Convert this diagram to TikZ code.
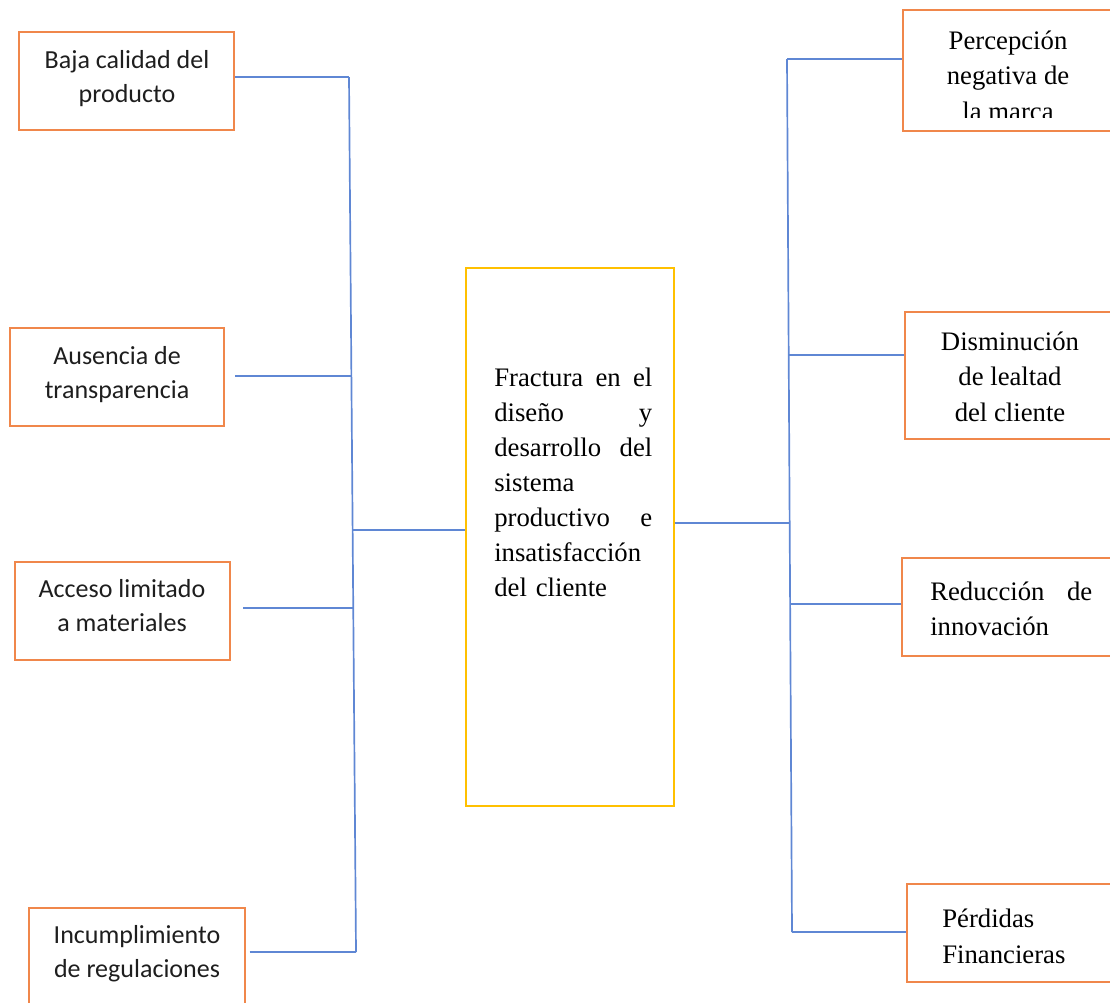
\documentclass[tikz,border=0pt]{standalone}
\usepackage{fontspec}
\setmainfont{Liberation Serif}
\newfontfamily\calibri{Carlito}
\usetikzlibrary{calc}
\definecolor{boxorange}{RGB}{240,135,75}
\definecolor{hubyellow}{RGB}{255,192,0}
\definecolor{linkblue}{RGB}{95,135,212}
\definecolor{inkgray}{RGB}{30,30,30}
\newlength{\hubcol}\setlength{\hubcol}{3.95cm}
\newlength{\redcol}\setlength{\redcol}{4.05cm}
\begin{document}
\begin{tikzpicture}[x=0.025cm,y=-0.025cm,
  box/.style={draw=boxorange, line width=1.4pt, rectangle, inner sep=0pt,
              minimum width=5.375cm, minimum height=2.45cm},
  hub/.style={draw=hubyellow, line width=1.1pt, rectangle, inner sep=0pt,
              minimum width=5.2cm, minimum height=13.45cm},
  link/.style={draw=linkblue, line width=1.2pt},
  causetext/.style={inner sep=0pt, anchor=base, align=center, text=inkgray,
              font=\calibri\fontsize{18.5}{24}\selectfont},
  effecttext/.style={inner sep=0pt, anchor=base, align=center,
              font=\fontsize{19}{25}\selectfont},
]
\useasboundingbox (0,0) rectangle (1110,1002);

% causes (left column); multi-line labels sit on their last baseline
\node[box] (b1) at (126.5,81) {};
\node[box, minimum width=5.35cm] (b2) at (117,377) {};
\node[box] (b3) at (122.5,611) {};
\node[box] (b4) at (137,957) {};
\node[causetext] (t1) at (127,102) {Baja calidad del\\producto};
\node[causetext] (t2) at (117,398) {Ausencia de\\transparencia};
\node[causetext] (t3) at (122,631) {Acceso limitado\\a materiales};
\node[causetext] (t4) at (137,977) {Incumplimiento\\de regulaciones};

% central problem, justified column
\node[hub] (hub) at (570,537) {};
\node[inner sep=0pt, anchor=base west, align=left, text width=\hubcol,
      font=\fontsize{19}{25}\selectfont] (ht) at (494,386)
  {\makebox[\hubcol][l]{Fractura\hfill en\hfill el}\\
   \makebox[\hubcol][l]{diseño\hfill y}\\
   \makebox[\hubcol][l]{desarrollo\hfill del}\\
   sistema\\
   \makebox[\hubcol][l]{productivo\hfill e}\\
   insatisfacción\\
   del cliente};

% effects (right column)
\node[box, minimum height=3.025cm] (e1) at (1010.5,70.5) {};
\node[box, minimum height=3.175cm] (e2) at (1012.5,375.5) {};
\node[box] (e3) at (1009.5,607) {};
\node[box] (e4) at (1014.5,933) {};
\begin{scope}
  \clip (903,10) rectangle (1110,117);
  \node[effecttext] (s1) at (1008,120) {Percepción\\negativa de\\la marca};
\end{scope}
\node[effecttext] (s2) at (1010,421) {Disminución\\de lealtad\\del cliente};
\begin{scope}
  \clip (902,558) rectangle (1110,637);
  \node[inner sep=0pt, anchor=base west, align=left, text width=\redcol,
        font=\fontsize{19}{25}\selectfont] (s3) at (930,600)
    {\makebox[\redcol][l]{Reducción\hfill de}\\innovación};
\end{scope}
\node[inner sep=0pt, anchor=base west, align=left,
      font=\fontsize{19}{25}\selectfont] (s4) at (942,963) {Pérdidas\\Financieras};

% left spine and branches
\coordinate (lt) at (349,77);
\coordinate (lb) at (356,952);
\coordinate (j2) at (351,376);
\coordinate (j3) at (353,608);
\coordinate (jc) at (352.5,530);
\draw[link] (lt) -- (lb);
\draw[link] (b1.east |- lt) -- (lt);
\draw[link] ([xshift=0.25cm]b2.east |- j2) -- (j2);
\draw[link] ([xshift=0.3cm]b3.east |- j3) -- (j3);
\draw[link] ([xshift=0.1cm]b4.east |- lb) -- (lb);
\draw[link] (jc) -- (hub.west |- jc);

% right spine and branches
\coordinate (rt) at (787,59);
\coordinate (rb) at (792,932);
\coordinate (k2) at (789,355);
\coordinate (k3) at (790.5,604);
\coordinate (kc) at (789.5,523);
\draw[link] (rt) -- (rb);
\draw[link] (rt) -- (e1.west |- rt);
\draw[link] (k2) -- (e2.west |- k2);
\draw[link] (k3) -- (e3.west |- k3);
\draw[link] (rb) -- (e4.west |- rb);
\draw[link] (hub.east |- kc) -- (kc);
\end{tikzpicture}
\end{document}
